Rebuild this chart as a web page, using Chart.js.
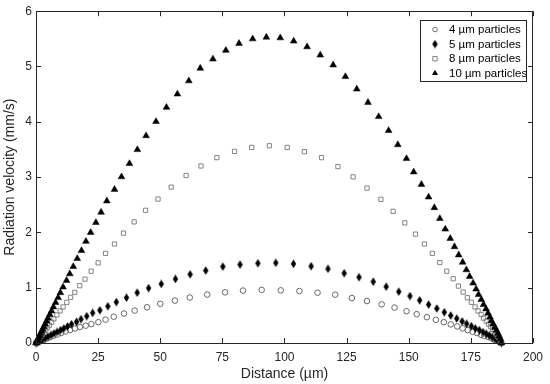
<!DOCTYPE html>
<html>
<head>
<meta charset="utf-8">
<title>Radiation velocity</title>
<script src="https://cdn.jsdelivr.net/npm/chart.js@4.4.1/dist/chart.umd.min.js"></script>
<style>
  html, body { margin:0; padding:0; background:#fff; }
  canvas { display:block; }
</style>
</head>
<body>
<canvas id="chart" width="550" height="384"></canvas>
<script>
// ========================
// DATA
// ========================
const SERIES_LABELS = ['4 µm particles', '5 µm particles', '8 µm particles', '10 µm particles'];
const X_TICKS = [0, 25, 50, 75, 100, 125, 150, 175, 200];
const Y_TICKS = [0, 1, 2, 3, 4, 5, 6];

// [distance (µm), velocity (mm/s)]
const vel4um = [
  [0,0],[1.0,0.018],[2.0,0.037],[3.1,0.058],[4.3,0.08],[5.6,0.104],[7.0,0.128],[8.5,0.153],
  [10.1,0.18],[11.9,0.208],[13.7,0.234],[15.7,0.262],[17.7,0.29],[20.0,0.313],[22.3,0.341],
  [25.1,0.377],[28.0,0.422],[31.3,0.476],[35.4,0.533],[39.7,0.587],[44.7,0.646],[50.0,0.709],
  [55.9,0.767],[61.9,0.822],[68.9,0.876],[76.1,0.916],[83.3,0.948],[90.8,0.961],[98.5,0.952],
  [106.0,0.939],[113.3,0.910],[120.4,0.874],[127.1,0.813],[133.2,0.759],[139.1,0.700],
  [144.3,0.641],[149.1,0.575],[153.2,0.521],[157.3,0.467],[160.9,0.418],[164.1,0.377],
  [166.9,0.336],[169.5,0.300],[171.7,0.264],[173.7,0.233],[175.7,0.203],[177.5,0.180],
  [179.1,0.149],[180.5,0.126],[182.0,0.108],[183.3,0.084],[184.5,0.059],[185.6,0.041],
  [186.7,0.023],[187.3,0]
];
const vel5um = [
  [0,0],[0.6,0.015],[1.5,0.036],[2.5,0.06],[3.6,0.088],[4.8,0.116],[6.0,0.145],[7.2,0.173],
  [8.5,0.202],[9.9,0.232],[11.2,0.264],[12.7,0.300],[14.3,0.341],[16.3,0.383],[18.1,0.431],
  [20.4,0.485],[22.8,0.544],[25.7,0.592],[28.9,0.664],[32.3,0.741],[36.4,0.820],[40.7,0.910],
  [45.3,0.993],[50.4,1.068],[56.1,1.158],[62.0,1.242],[68.3,1.311],[75.2,1.382],[82.1,1.418],
  [89.3,1.442],[96.5,1.449],[103.6,1.431],[110.7,1.388],[117.5,1.341],[124.0,1.262],
  [130.0,1.190],[135.7,1.108],[140.9,1.018],[146.0,0.928],[150.5,0.849],[154.4,0.772],
  [158.0,0.695],[161.3,0.623],[164.3,0.557],[166.9,0.497],[169.3,0.443],[171.5,0.390],
  [173.3,0.348],[175.2,0.305],[176.8,0.264],[178.4,0.233],[179.9,0.197],[181.2,0.167],
  [182.4,0.138],[183.6,0.108],[184.7,0.077],[185.7,0.048],[186.7,0.031],[187.3,0]
];
const vel8um = [
  [0,0],[0.7,0.042],[1.3,0.076],[1.9,0.112],[2.5,0.15],[3.2,0.19],[3.9,0.232],[4.6,0.277],
  [5.4,0.323],[6.3,0.377],[7.2,0.436],[8.4,0.508],[9.7,0.58],[10.9,0.652],[12.4,0.736],
  [13.9,0.826],[15.6,0.916],[17.6,1.036],[19.7,1.154],[22.2,1.298],[25.0,1.449],[28.0,1.621],
  [31.6,1.79],[35.2,1.987],[39.5,2.19],[44.1,2.4],[49.1,2.603],[54.4,2.819],[60.4,3.029],
  [66.4,3.201],[72.8,3.352],[79.9,3.465],[86.8,3.537],[93.9,3.567],[101.1,3.537],[108.0,3.46],
  [114.9,3.352],[121.5,3.19],[127.6,3.004],[133.2,2.801],[138.8,2.598],[143.7,2.382],
  [148.4,2.172],[152.7,1.969],[156.3,1.79],[159.5,1.621],[162.5,1.454],[165.3,1.298],
  [167.9,1.162],[170.0,1.029],[171.9,0.921],[173.6,0.82],[175.2,0.736],[176.7,0.652],
  [177.9,0.58],[179.1,0.515],[180.1,0.449],[181.2,0.395],[182.1,0.341],[182.9,0.293],
  [183.7,0.246],[184.4,0.203],[185.1,0.162],[185.7,0.12],[186.3,0.084],[186.8,0.048],[187.3,0]
];
const vel10um = [
  [0,0],[0.38,0.036],[0.71,0.066],[1.07,0.10],[1.45,0.135],[1.83,0.17],[2.26,0.21],[2.65,0.246],
  [3.15,0.293],[3.67,0.341],[4.25,0.395],[4.83,0.449],[5.55,0.515],[6.25,0.58],[7.0,0.651],
  [7.9,0.73],[8.9,0.82],[9.8,0.91],[10.9,1.011],[12.3,1.131],[13.6,1.251],[15.0,1.382],
  [16.6,1.526],[18.3,1.67],[20.1,1.837],[22.0,1.998],[24.1,2.178],[26.2,2.364],[28.5,2.568],
  [31.6,2.777],[34.4,3.004],[37.6,3.244],[40.8,3.496],[44.3,3.747],[48.3,4.004],[52.5,4.26],
  [56.9,4.501],[61.5,4.74],[66.1,4.968],[71.2,5.135],[76.4,5.291],[81.7,5.416],[87.2,5.499],
  [92.7,5.53],[98.3,5.517],[103.7,5.458],[109.1,5.355],[114.4,5.206],[119.6,5.027],
  [124.5,4.817],[129.1,4.591],[133.6,4.35],[137.9,4.093],[141.9,3.842],[145.6,3.585],
  [149.1,3.334],[152.0,3.093],[155.1,2.867],[158.0,2.639],[160.3,2.447],[162.5,2.25],
  [164.7,2.059],[166.7,1.89],[168.4,1.741],[170.1,1.592],[171.7,1.46],[173.2,1.323],
  [174.5,1.203],[175.9,1.083],[177.1,0.975],[178.1,0.874],[179.2,0.785],[180.1,0.695],
  [181.1,0.616],[181.9,0.539],[182.7,0.467],[183.3,0.4],[184.0,0.341],[184.7,0.282],
  [185.3,0.228],[185.9,0.174],[186.4,0.126],[186.9,0.077],[187.3,0]
];

// ========================
// STYLE
// ========================
const FONT = 'Liberation Sans, Arial, Helvetica, sans-serif';
const AXIS_COLOR = '#262626';

// tall filled diamond, MATLAB style
function makeDiamond() {
  const c = document.createElement('canvas');
  c.width = 7; c.height = 9;
  const g = c.getContext('2d');
  g.fillStyle = '#000';
  g.beginPath();
  g.moveTo(3.5, 0.3); g.lineTo(6.2, 4.5); g.lineTo(3.5, 8.7); g.lineTo(0.8, 4.5);
  g.closePath(); g.fill();
  return c;
}
const diamondImg = makeDiamond();

const toPts = arr => arr.map(p => ({ x: p[0], y: p[1] }));

const MARKERS = [
  { pointStyle:'circle', pointRadius:2.8, borderColor:'#666', backgroundColor:'rgba(0,0,0,0)', borderWidth:1 },
  { pointStyle:diamondImg, pointRadius:3.5, borderColor:'#000', backgroundColor:'#000', borderWidth:0 },
  { pointStyle:'rect', pointRadius:3, borderColor:'#777', backgroundColor:'rgba(0,0,0,0)', borderWidth:0.9 },
  { pointStyle:'triangle', pointRadius:3.9, borderColor:'#000', backgroundColor:'#000', borderWidth:0.5 }
];
const SERIES = [vel4um, vel5um, vel8um, vel10um];

// ========================
// PLUGINS
// ========================
const axesBox = {
  id: 'axesBox',
  afterDatasetsDraw(chart) {
    const { ctx, chartArea: a, scales } = chart;
    ctx.save();
    ctx.strokeStyle = AXIS_COLOR;
    ctx.lineWidth = 1;
    ctx.strokeRect(Math.round(a.left) + 0.5, Math.round(a.top) + 0.5,
                   Math.round(a.right - a.left) - 1, Math.round(a.bottom - a.top));
    ctx.beginPath();
    X_TICKS.forEach(v => {
      const px = Math.round(scales.x.getPixelForValue(v)) + 0.5;
      ctx.moveTo(px, a.bottom); ctx.lineTo(px, a.bottom - 5);
      ctx.moveTo(px, a.top); ctx.lineTo(px, a.top + 5);
    });
    Y_TICKS.forEach(v => {
      const py = Math.round(scales.y.getPixelForValue(v)) + 0.5;
      ctx.moveTo(a.left, py); ctx.lineTo(a.left + 5, py);
      ctx.moveTo(a.right, py); ctx.lineTo(a.right - 5, py);
    });
    ctx.stroke();
    ctx.restore();
  }
};

function drawLegendMarker(ctx, i, x, y) {
  const m = MARKERS[i];
  ctx.save();
  ctx.strokeStyle = m.borderColor;
  ctx.fillStyle = m.backgroundColor;
  ctx.lineWidth = m.borderWidth;
  ctx.beginPath();
  if (i === 0) {
    ctx.arc(x, y, 2.3, 0, Math.PI * 2); ctx.stroke();
  } else if (i === 1) {
    ctx.drawImage(diamondImg, x - 3.5, y - 4.5);
  } else if (i === 2) {
    ctx.rect(x - 2.2, y - 2.2, 4.4, 4.4); ctx.stroke();
  } else {
    const r = 3.5;
    ctx.moveTo(x, y - r); ctx.lineTo(x + 0.866 * r, y + 0.5 * r); ctx.lineTo(x - 0.866 * r, y + 0.5 * r);
    ctx.closePath(); ctx.fill();
  }
  ctx.restore();
}

const boxLegend = {
  id: 'boxLegend',
  afterDraw(chart) {
    const { ctx, chartArea: a } = chart;
    const w = 106, h = 61;
    const left = Math.round(a.right - 7 - w) + 0.5, top = Math.round(a.top + 9) + 0.5;
    ctx.save();
    ctx.fillStyle = '#fff';
    ctx.fillRect(left, top, w, h);
    ctx.strokeStyle = AXIS_COLOR;
    ctx.lineWidth = 1;
    ctx.strokeRect(left, top, w, h);
    ctx.font = '11.5px ' + FONT;
    ctx.textBaseline = 'middle';
    SERIES_LABELS.forEach((lab, i) => {
      const yy = top + 9 + i * 14.6;
      drawLegendMarker(ctx, i, left + 14.5, yy);
      ctx.fillStyle = '#000';
      ctx.fillText(lab, left + 28.5, yy + 0.5);
    });
    ctx.restore();
  }
};

// ========================
// CHART
// ========================
new Chart(document.getElementById('chart'), {
  type: 'scatter',
  data: {
    datasets: SERIES.map((s, i) => Object.assign({
      label: SERIES_LABELS[i],
      data: toPts(s),
      showLine: false,
      clip: false,
      order: 3 - i,
      pointHoverRadius: MARKERS[i].pointRadius
    }, MARKERS[i]))
  },
  options: {
    responsive: false,
    animation: false,
    devicePixelRatio: 1,
    layout: { padding: { top: 9, right: 14, left: 0, bottom: 0 } },
    plugins: { legend: { display: false }, tooltip: { enabled: false } },
    scales: {
      x: {
        type: 'linear', min: 0, max: 200,
        afterBuildTicks: s => { s.ticks = X_TICKS.map(v => ({ value: v })); },
        afterFit: s => { s.height = 41; },
        grid: { display: false, drawTicks: false },
        border: { display: false },
        ticks: { color: AXIS_COLOR, padding: 7, font: { family: FONT, size: 12 }, maxRotation: 0 },
        title: { display: true, text: 'Distance (µm)', color: AXIS_COLOR,
                 font: { family: FONT, size: 14 }, padding: { top: 0, bottom: 1 } }
      },
      y: {
        type: 'linear', min: 0, max: 6,
        afterBuildTicks: s => { s.ticks = Y_TICKS.map(v => ({ value: v })); },
        afterFit: s => { s.width = 36; },
        grid: { display: false, drawTicks: false },
        border: { display: false },
        ticks: { color: AXIS_COLOR, padding: 4, font: { family: FONT, size: 12 } },
        title: { display: true, text: 'Radiation velocity (mm/s)', color: AXIS_COLOR,
                 font: { family: FONT, size: 14 }, padding: { top: 2, bottom: 0 } }
      }
    }
  },
  plugins: [axesBox, boxLegend]
});
</script>
</body>
</html>
